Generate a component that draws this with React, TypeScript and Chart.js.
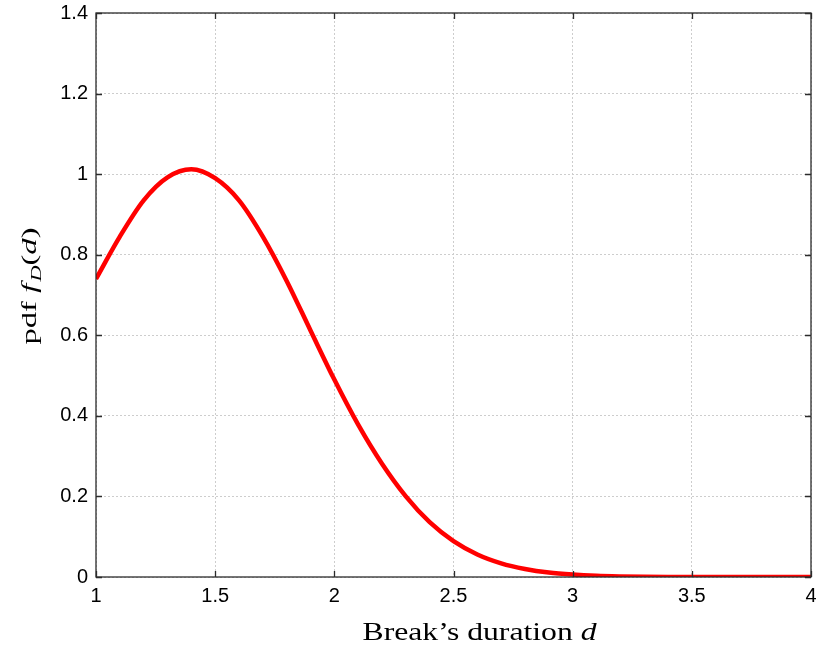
import React, { useEffect, useRef } from "react";
import { Chart, registerables } from "chart.js";

Chart.register(...registerables);

// ---- data ----
const durations = [
  1.0, 1.1, 1.2, 1.3, 1.4, 1.5, 1.6, 1.7, 1.8, 1.9,
  2.0, 2.1, 2.2, 2.3, 2.4, 2.5, 2.6, 2.7, 2.8, 2.9,
  3.0, 3.1, 3.2, 3.3, 3.4, 3.5, 3.6, 3.7, 3.8, 3.9, 4.0,
];
const pdfValues = [
  0.74, 0.845, 0.935, 0.992, 1.012, 0.99, 0.935, 0.845, 0.735, 0.612,
  0.49, 0.378, 0.281, 0.2, 0.136, 0.089, 0.056, 0.034, 0.02, 0.011,
  0.006, 0.003, 0.0015, 0.0007, 0.0003, 0.0001, 0, 0, 0, 0, 0,
];
const xTickValues = [1, 1.5, 2, 2.5, 3, 3.5, 4];
const yTickValues = [0, 0.2, 0.4, 0.6, 0.8, 1, 1.2, 1.4];
const xTitleText = "Break\u2019s duration ";
const xTitleVar = "d";
const yTitlePrefix = "pdf ";
const yTitleFunc = "f";
const yTitleSub = "D";
const yTitleArg = "d";

const SERIF = "'Liberation Serif', 'Times New Roman', serif";
const SANS = "'Liberation Sans', Arial, sans-serif";

const fmt = (v: number) => String(Math.round(v * 10) / 10);

const framePlugin = {
  id: "frameAndTitles",
  afterDraw(chart: any) {
    const { ctx, chartArea: a, scales } = chart;
    const xs = scales.x;
    const ys = scales.y;
    ctx.save();
    // box
    ctx.strokeStyle = "#2b2b2b";
    ctx.lineWidth = 1.3;
    ctx.strokeRect(a.left, a.top, a.right - a.left, a.bottom - a.top);
    // inward ticks on all four sides
    const tl = 6;
    ctx.beginPath();
    xs.ticks.forEach((t: any) => {
      const px = Math.round(xs.getPixelForValue(t.value)) + 0.5;
      ctx.moveTo(px, a.bottom);
      ctx.lineTo(px, a.bottom - tl);
      ctx.moveTo(px, a.top);
      ctx.lineTo(px, a.top + tl);
    });
    ys.ticks.forEach((t: any) => {
      const py = Math.round(ys.getPixelForValue(t.value)) + 0.5;
      ctx.moveTo(a.left, py);
      ctx.lineTo(a.left + tl, py);
      ctx.moveTo(a.right, py);
      ctx.lineTo(a.right - tl, py);
    });
    ctx.stroke();

    ctx.fillStyle = "#000";
    ctx.textBaseline = "alphabetic";
    ctx.textAlign = "left";

    // x title
    const xf = `26px ${SERIF}`;
    const xfi = `italic 26px ${SERIF}`;
    ctx.font = xf;
    const w1 = ctx.measureText(xTitleText).width;
    ctx.font = xfi;
    const w2 = ctx.measureText(xTitleVar).width;
    const xTarget = 234;
    const sx = xTarget / (w1 + w2);
    const xCenter = (a.left + a.right) / 2 + 26;
    ctx.save();
    ctx.translate(xCenter - xTarget / 2, 640);
    ctx.scale(sx, 1);
    ctx.font = xf;
    ctx.fillText(xTitleText, 0, 0);
    ctx.font = xfi;
    ctx.fillText(xTitleVar, w1, 0);
    ctx.restore();

    // y title (rotated)
    const yf = `22px ${SERIF}`;
    const yfi = `italic 22px ${SERIF}`;
    const ysub = `italic 15px ${SERIF}`;
    const parts: [string, string, number][] = [
      [yTitlePrefix, yf, 0],
      [yTitleFunc, yfi, 0],
      [yTitleSub, ysub, 5],
      ["(", yf, 0],
      [yTitleArg, yfi, 0],
      [")", yf, 0],
    ];
    let total = 0;
    const widths = parts.map(([t, f]) => {
      ctx.font = f;
      const w = ctx.measureText(t).width + (t === yTitleFunc ? 1.5 : 0);
      total += w;
      return w;
    });
    const yTarget = 117;
    const sy = yTarget / total;
    const yCenter = 286;
    ctx.save();
    ctx.translate(36, yCenter + yTarget / 2);
    ctx.rotate(-Math.PI / 2);
    ctx.scale(sy, 1);
    let cx = 0;
    parts.forEach(([t, f, dy], i) => {
      ctx.font = f;
      ctx.fillText(t, cx, dy);
      cx += widths[i];
    });
    ctx.restore();

    ctx.restore();
  },
};

export default function App() {
  const ref = useRef<HTMLCanvasElement | null>(null);

  useEffect(() => {
    if (!ref.current) return;
    const points = durations.map((d, i) => ({ x: d, y: pdfValues[i] }));
    const chart = new Chart(ref.current, {
      type: "line",
      data: {
        datasets: [
          {
            data: points,
            borderColor: "#ff0000",
            borderWidth: 4.5,
            pointRadius: 0,
            fill: false,
            cubicInterpolationMode: "monotone",
          },
        ],
      },
      options: {
        responsive: false,
        animation: false,
        events: [],
        layout: { padding: { top: 13, right: 5, left: 0, bottom: 0 } },
        plugins: {
          legend: { display: false },
          tooltip: { enabled: false },
          title: { display: false },
        },
        scales: {
          x: {
            type: "linear",
            min: 1,
            max: 4,
            afterBuildTicks: (s: any) => {
              s.ticks = xTickValues.map((v) => ({ value: v }));
            },
            afterFit: (s: any) => {
              s.height = 71;
              s.paddingLeft = 0;
              s.paddingRight = 0;
              s.paddingTop = 0;
              s.paddingBottom = 0;
            },
            ticks: {
              color: "#000",
              font: { family: SANS, size: 20 },
              padding: 7,
              maxRotation: 0,
              autoSkip: false,
              callback: (v: any) => fmt(Number(v)),
            },
            grid: { color: "#cdcdcd", lineWidth: 1, drawTicks: false },
            border: { display: false, dash: [2, 2] },
          },
          y: {
            type: "linear",
            min: 0,
            max: 1.4,
            afterBuildTicks: (s: any) => {
              s.ticks = yTickValues.map((v) => ({ value: v }));
            },
            afterFit: (s: any) => {
              s.width = 96;
              s.paddingLeft = 0;
              s.paddingRight = 0;
              s.paddingTop = 0;
              s.paddingBottom = 0;
            },
            ticks: {
              color: "#000",
              font: { family: SANS, size: 20 },
              padding: 8,
              autoSkip: false,
              callback: (v: any) => fmt(Number(v)),
            },
            grid: { color: "#cdcdcd", lineWidth: 1, drawTicks: false },
            border: { display: false, dash: [2, 2] },
          },
        },
      },
      plugins: [framePlugin],
    });
    return () => chart.destroy();
  }, []);

  return (
    <div style={{ position: "fixed", left: 0, top: 0, width: 816, height: 648, background: "#fff" }}>
      <canvas ref={ref} width={816} height={648} style={{ display: "block" }} />
    </div>
  );
}
